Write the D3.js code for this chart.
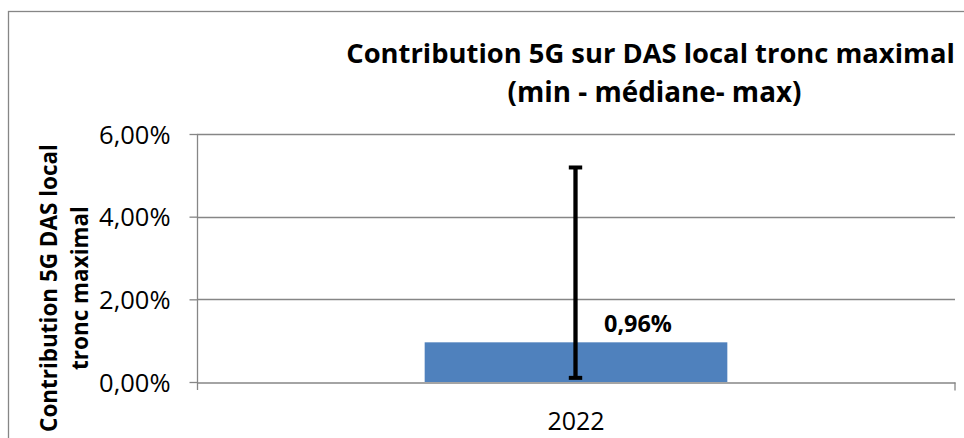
<!DOCTYPE html>
<html><head><meta charset="utf-8">
<script src="https://cdn.jsdelivr.net/npm/d3@7"></script>
<style>html,body{margin:0;padding:0;background:#fff;}svg{display:block;}</style>
</head><body>
<script>
const categories = ["2022"];
const medianValues = [0.96];
const minValues = [0.10];
const maxValues = [5.19];
const yTicks = [0, 2, 4, 6];
const titleLines = ["Contribution 5G sur DAS local tronc maximal", "(min - médiane- max)"];
const yTitleLines = ["Contribution 5G DAS local", "tronc maximal"];

const W = 964, H = 438;
const FONT = "'Open Sans', 'Noto Sans', sans-serif";
const svg = d3.select("body").append("svg").attr("width", W).attr("height", H);

// outer chart frame
svg.append("rect").attr("x", 8.5).attr("y", 11.5).attr("width", 1000).attr("height", 1000)
  .attr("fill", "#fff").attr("stroke", "#868686").attr("stroke-width", 1.3);

const plot = {left: 197, right: 955, top: 134, bottom: 382};
const y = d3.scaleLinear().domain([0, 6]).range([plot.bottom, plot.top]);
const x = d3.scaleBand().domain(categories).range([plot.left, plot.right]).paddingInner(0.4293).paddingOuter(0.4293);

// compress text horizontally to the measured width while keeping glyph height
function squeeze(sel, w) {
  const cur = sel.node().getComputedTextLength();
  if (cur > w) sel.attr("textLength", w).attr("lengthAdjust", "spacingAndGlyphs");
  else sel.attr("font-size", parseFloat(sel.attr("font-size")) * w / cur);
}

// gridlines
svg.append("g").selectAll("line").data(yTicks.filter(d => d !== 0)).join("line")
  .attr("x1", plot.left).attr("x2", plot.right)
  .attr("y1", d => Math.round(y(d)) + 0.5).attr("y2", d => Math.round(y(d)) + 0.5)
  .attr("stroke", "#868686").attr("stroke-width", 1.3);

// bars
svg.append("g").selectAll("rect").data(categories).join("rect")
  .attr("x", d => x(d)).attr("width", x.bandwidth())
  .attr("y", (d, i) => y(medianValues[i])).attr("height", (d, i) => y(0) - y(medianValues[i]))
  .attr("fill", "#4F81BD");

// y axis
const yAxis = d3.axisLeft(y).tickValues(yTicks).tickSize(8).tickPadding(19)
  .tickFormat(d => d3.format(".2f")(d).replace(".", ",") + "%");
const gy = svg.append("g").attr("transform", `translate(${plot.left + 0.5},0)`).call(yAxis);
gy.select(".domain").remove();
gy.selectAll(".tick line").attr("stroke", "#868686").attr("stroke-width", 1.3);
gy.selectAll(".tick text").attr("font-family", FONT).attr("font-size", 25.5).attr("fill", "#000").attr("dy", "0.36em");
gy.append("line").attr("x1", 0).attr("x2", 0).attr("y1", plot.top).attr("y2", plot.bottom + 8)
  .attr("stroke", "#868686").attr("stroke-width", 1.3);

// x axis
const xAxis = d3.axisBottom(x).tickSize(0).tickPadding(30);
const gx = svg.append("g").attr("transform", `translate(0,${Math.round(y(0)) + 0.5})`).call(xAxis);
gx.select(".domain").attr("stroke", "#868686").attr("stroke-width", 1.3);
gx.selectAll(".tick text").attr("font-family", FONT).attr("font-size", 25).attr("fill", "#000");
gx.append("line").attr("x1", plot.right).attr("x2", plot.right).attr("y1", 0).attr("y2", 8)
  .attr("stroke", "#868686").attr("stroke-width", 1.3);

// error bars
const eb = svg.append("g");
categories.forEach((c, i) => {
  const cx = x(c) + x.bandwidth() / 2 - 0.5;
  eb.append("line").attr("x1", cx).attr("x2", cx).attr("y1", y(maxValues[i])).attr("y2", y(minValues[i]))
    .attr("stroke", "#000").attr("stroke-width", 4.3);
  [maxValues[i], minValues[i]].forEach(v => {
    eb.append("line").attr("x1", cx - 6.7).attr("x2", cx + 6.7).attr("y1", y(v)).attr("y2", y(v))
      .attr("stroke", "#000").attr("stroke-width", 4);
  });
});

// data labels
const lbl = svg.append("g").selectAll("text").data(categories).join("text")
  .attr("x", d => x(d) + x.bandwidth() / 2 + 62)
  .attr("y", (d, i) => y(medianValues[i]) - 10)
  .attr("text-anchor", "middle").attr("font-family", FONT).attr("font-weight", "bold")
  .attr("font-size", 21).attr("fill", "#000")
  .text((d, i) => d3.format(".2f")(medianValues[i]).replace(".", ",") + "%");
squeeze(lbl, 68);

// title
const t1 = svg.append("text").attr("x", 650.5).attr("y", 63).attr("text-anchor", "middle")
  .attr("font-family", FONT).attr("font-weight", "bold").attr("font-size", 25).attr("fill", "#000").text(titleLines[0]);
squeeze(t1, 609);
const t2 = svg.append("text").attr("x", 654.5).attr("y", 101.5).attr("text-anchor", "middle")
  .attr("font-family", FONT).attr("font-weight", "bold").attr("font-size", 25).attr("fill", "#000").text(titleLines[1]);
squeeze(t2, 294);

// y title
const yt2 = svg.append("text").attr("transform", "translate(88,288) rotate(-90)").attr("text-anchor", "middle")
  .attr("font-family", FONT).attr("font-weight", "bold").attr("font-size", 21.5).attr("fill", "#000").text(yTitleLines[1]);
const ratio = 164 / yt2.node().getComputedTextLength();
squeeze(yt2, 164);
const yt1 = svg.append("text").attr("transform", "translate(57,288) rotate(-90)").attr("text-anchor", "middle")
  .attr("font-family", FONT).attr("font-weight", "bold").attr("font-size", 21.5).attr("fill", "#000").text(yTitleLines[0]);
squeeze(yt1, yt1.node().getComputedTextLength() * ratio);
</script>
</body></html>
